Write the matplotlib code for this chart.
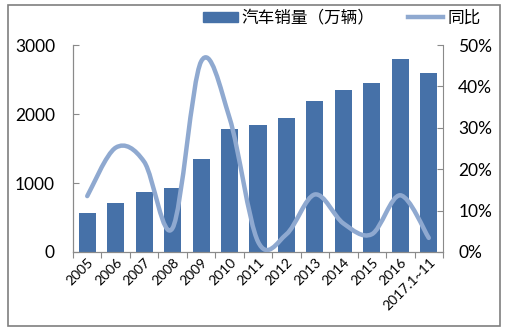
import matplotlib
matplotlib.use("Agg")
import matplotlib.pyplot as plt
from matplotlib.path import Path
from matplotlib.patches import PathPatch, Rectangle
from matplotlib.lines import Line2D
import numpy as np

plt.rcParams['font.family'] = ['Lato', 'Noto Sans CJK SC', 'DejaVu Sans']

years = ["2005", "2006", "2007", "2008", "2009", "2010", "2011",
         "2012", "2013", "2014", "2015", "2016", "2017.1~11"]
sales = [570, 705, 865, 925, 1345, 1785, 1845, 1935, 2190, 2350, 2450, 2795, 2595]
growth = [13.5, 25.2, 21.8, 5.8, 46.0, 32.4, 2.5, 4.3, 13.9, 6.9, 4.3, 13.7, 3.4]

bar_color = "#4671a8"
line_color = "#8fa9d0"
spine_color = "#8a8a8a"

fig = plt.figure(figsize=(5.09, 3.31), dpi=100)
fig.patch.set_facecolor("white")
fig.patches.append(Rectangle((8 / 509, 5 / 331), 492 / 509, 321 / 331, transform=fig.transFigure,
                             fill=False, edgecolor="#7f7f7f", lw=1.2))

ax = fig.add_axes([73 / 509, 1 - 252 / 331, (443 - 73) / 509, (252 - 45) / 331])
ax.set_facecolor("none")
x = np.arange(len(years))
ax.bar(x, sales, width=0.6, color=bar_color, zorder=2)
ax.set_xlim(-0.5, len(years) - 0.5)
ax.set_ylim(0, 3000)
ax.set_yticks([0, 1000, 2000, 3000])

# ticks between categories, labels at the centres
ax.set_xticks(np.arange(-0.5, len(years)), labels=[])
ax.set_xticks(x, labels=years, minor=True)
ax.tick_params(axis='x', which='major', direction='out', length=4, color=spine_color)
ax.tick_params(axis='x', which='minor', length=0, pad=3, labelsize=10)
for lab in ax.get_xticklabels(minor=True):
    lab.set_rotation(45)
    lab.set_ha('right')
    lab.set_rotation_mode('anchor')
ax.tick_params(axis='y', direction='in', length=4, color=spine_color, pad=13, labelsize=12.5)

ax2 = ax.twinx()
ax2.set_ylim(0, 50)
ax2.set_yticks([0, 10, 20, 30, 40, 50])
ax2.set_yticklabels([f"{v}%" for v in [0, 10, 20, 30, 40, 50]])
ax2.tick_params(axis='y', direction='in', length=4, color=spine_color, pad=11, labelsize=12.5)

for a in (ax, ax2):
    a.spines['top'].set_visible(False)
    for s in ('left', 'right', 'bottom'):
        a.spines[s].set_color(spine_color)
ax.spines['right'].set_visible(False)

# smoothed growth line: cubic bezier segments through each point
px = x.astype(float)
py = np.array(growth, dtype=float)
n = len(px)
verts = [(px[0], py[0])]
codes = [Path.MOVETO]
for i in range(n - 1):
    i0 = max(i - 1, 0)
    i3 = min(i + 2, n - 1)
    c1 = (px[i] + (px[i + 1] - px[i0]) / 6, py[i] + (py[i + 1] - py[i0]) / 6)
    c2 = (px[i + 1] - (px[i3] - px[i]) / 6, py[i + 1] - (py[i3] - py[i]) / 6)
    verts += [c1, c2, (px[i + 1], py[i + 1])]
    codes += [Path.CURVE4] * 3
ax2.add_patch(PathPatch(Path(verts, codes), fill=False, edgecolor=line_color, lw=3.2,
                        capstyle='round', joinstyle='round', zorder=3))

handles = [Rectangle((0, 0), 1, 1, color=bar_color),
           Line2D([], [], color=line_color, lw=3.2)]
fig.legend(handles, ["汽车销量（万辆）", "同比"], loc='center', bbox_to_anchor=(0.671, 0.946),
           ncol=2, frameon=False, fontsize=12, handlelength=2.1, handleheight=0.6,
           columnspacing=2.0, handletextpad=0.25)

fig.savefig("out.png", dpi=100)
